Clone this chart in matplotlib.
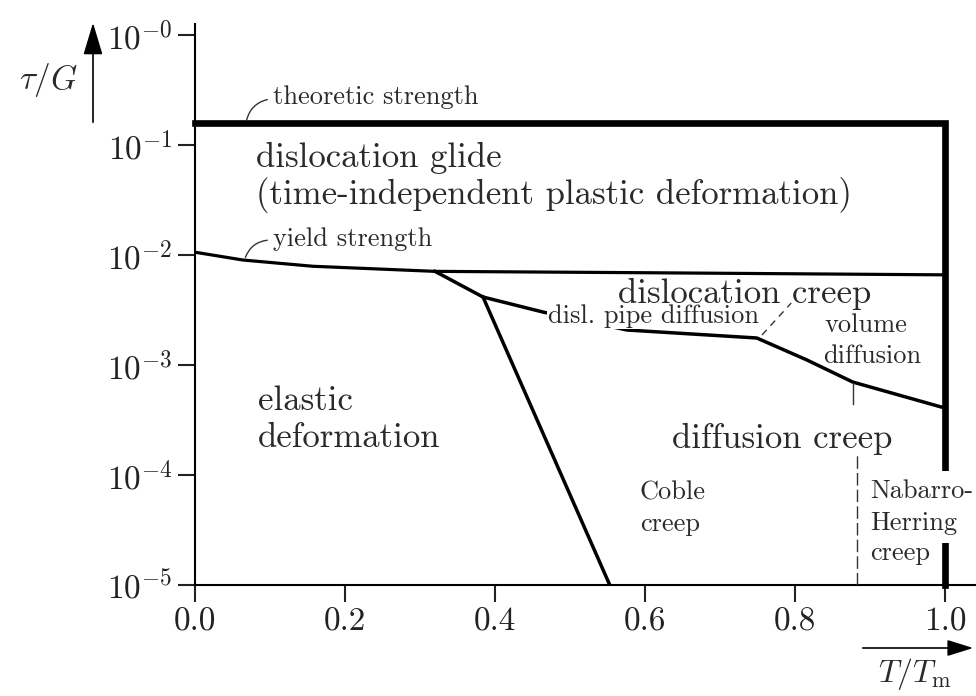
import matplotlib
matplotlib.use("Agg")
import matplotlib.pyplot as plt

# Fonts: Computer Modern look
plt.rcParams['font.family'] = ['cmr10', 'DejaVu Serif']
plt.rcParams['mathtext.fontset'] = 'cm'
plt.rcParams['axes.unicode_minus'] = False

# Boundary lines of the deformation map (T/Tm, tau/G)
theo_x = [0.0, 1.0, 1.0]
theo_y = [0.158, 0.158, 1e-5]

yield_x = [0.0, 0.064, 0.157, 0.32, 0.6, 1.0]
yield_y = [0.0106, 0.0090, 0.0079, 0.0071, 0.0069, 0.0066]

creep_x = [0.32, 0.384, 0.464, 0.576, 0.749, 0.816, 0.877, 1.0]
creep_y = [0.0071, 0.00415, 0.00303, 0.00208, 0.00176, 0.00111, 0.0007, 0.000406]

coble_x = [0.384, 0.553]
coble_y = [0.00415, 1e-5]

nh_x = [0.883, 0.883]
nh_y = [1e-5, 0.000152]

vol_x = [0.877, 0.877]
vol_y = [0.00069, 0.00044]

lead_x = [0.756, 0.795]
lead_y = [0.001875, 0.00366]

xticks = [0.0, 0.2, 0.4, 0.6, 0.8, 1.0]
xtick_labels = ['0.0', '0.2', '0.4', '0.6', '0.8', '1.0']
yticks = [1e-5, 1e-4, 1e-3, 1e-2, 1e-1, 1e0]
ytick_labels = [r'$10^{-5}$', r'$10^{-4}$', r'$10^{-3}$', r'$10^{-2}$', r'$10^{-1}$', r'$10^{-0}$']

fig = plt.figure(figsize=(9.76, 6.96), dpi=100)
ax = fig.add_axes([195 / 976, 111 / 696, 781 / 976, 561 / 696])
ax.set_yscale('log')
ax.set_xlim(0, 781 / 750)
ax.set_ylim(1e-5, 10 ** 0.1)

for s in ['top', 'right']:
    ax.spines[s].set_visible(False)
for s in ['left', 'bottom']:
    ax.spines[s].set_linewidth(1.5)

ax.set_xticks(xticks)
ax.set_xticklabels(xtick_labels)
ax.set_yticks(yticks)
ax.set_yticklabels(ytick_labels)
ax.minorticks_off()
ax.tick_params(direction='out', length=12, width=1.5, labelsize=24, pad=4, colors='#222222')

# Lines
ax.plot(theo_x, theo_y, color='black', lw=4.8, solid_joinstyle='miter', zorder=3, clip_on=False)
ax.plot(yield_x, yield_y, color='black', lw=2.3, zorder=3)
ax.plot(creep_x, creep_y, color='black', lw=2.5, zorder=3)
ax.plot(coble_x, coble_y, color='black', lw=2.5, zorder=3)
ax.plot(nh_x, nh_y, color='#333333', lw=1.0, dashes=(9, 3), zorder=3)
ax.plot(vol_x, vol_y, color='#333333', lw=1.0, zorder=3)
ax.plot(lead_x, lead_y, color='#333333', lw=1.0, dashes=(5, 4), zorder=3)

# Leader curves
ax.annotate('', xy=(0.1, 0.262), xytext=(0.068, 0.158),
            arrowprops=dict(arrowstyle='-', lw=1.0, color='#333333',
                            connectionstyle='arc3,rad=-0.35'))
ax.annotate('', xy=(0.1, 0.0137), xytext=(0.066, 0.0090),
            arrowprops=dict(arrowstyle='-', lw=1.0, color='#333333',
                            connectionstyle='arc3,rad=-0.35'))

tc = '#2a2a2a'
big = 25
small = 19
white = dict(boxstyle='square,pad=0.05', fc='white', ec='none')

ax.text(0.104, 0.236, 'theoretic strength', fontsize=small, color=tc, va='baseline')
ax.text(0.081, 0.063, 'dislocation glide', fontsize=big, color=tc, va='baseline')
ax.text(0.081, 0.0291, '(time-independent plastic deformation)', fontsize=big, color=tc, va='baseline')
ax.text(0.104, 0.01208, 'yield strength', fontsize=small, color=tc, va='baseline')
ax.text(0.564, 0.00366, 'dislocation creep', fontsize=big, color=tc, va='baseline', zorder=6)
ax.text(0.471, 0.00240, 'disl. pipe diffusion', fontsize=small, color=tc, va='baseline',
        bbox=white, zorder=4)
ax.text(0.84, 0.002, 'volume', fontsize=small, color=tc, va='baseline')
ax.text(0.837, 0.00104, 'diffusion', fontsize=small, color=tc, va='baseline')
ax.text(0.084, 0.00039, 'elastic', fontsize=big, color=tc, va='baseline')
ax.text(0.084, 0.00018, 'deformation', fontsize=big, color=tc, va='baseline')
ax.text(0.636, 0.000176, 'diffusion creep', fontsize=big, color=tc, va='baseline')
ax.text(0.593, 5.93e-5, 'Coble', fontsize=small, color=tc, va='baseline')
ax.text(0.593, 3.1e-5, 'creep', fontsize=small, color=tc, va='baseline')
ax.text(0.9, 6.18e-5, 'Nabarro-', fontsize=small, color=tc, va='baseline',
        bbox=dict(boxstyle='square,pad=0.3', fc='white', ec='none'), zorder=5)
ax.text(0.9, 3.16e-5, 'Herring', fontsize=small, color=tc, va='baseline',
        bbox=dict(boxstyle='square,pad=0.3', fc='white', ec='none'), zorder=5)
ax.text(0.9, 1.69e-5, 'creep', fontsize=small, color=tc, va='baseline', zorder=5)

# Axis arrows and labels
ax.annotate('', xy=(93, 696 - 20), xycoords='figure pixels',
            xytext=(93, 696 - 125), textcoords='figure pixels',
            arrowprops=dict(arrowstyle='-|>,head_length=1.0,head_width=0.3',
                            lw=1.2, color='black', mutation_scale=20),
            annotation_clip=False)
ax.annotate('', xy=(976, 696 - 648), xycoords='figure pixels',
            xytext=(860, 696 - 648), textcoords='figure pixels',
            arrowprops=dict(arrowstyle='-|>,head_length=0.8,head_width=0.25',
                            lw=1.2, color='black', mutation_scale=20),
            annotation_clip=False)
fig.text(48 / 976, 1 - 80 / 696, r'$\tau/G$', fontsize=24, color=tc, ha='center', va='center')
fig.text(915 / 976, 1 - 674 / 696, r'$T/T_{\rm m}$', fontsize=23, color=tc, ha='center', va='center')

fig.savefig('out.png', dpi=100)
